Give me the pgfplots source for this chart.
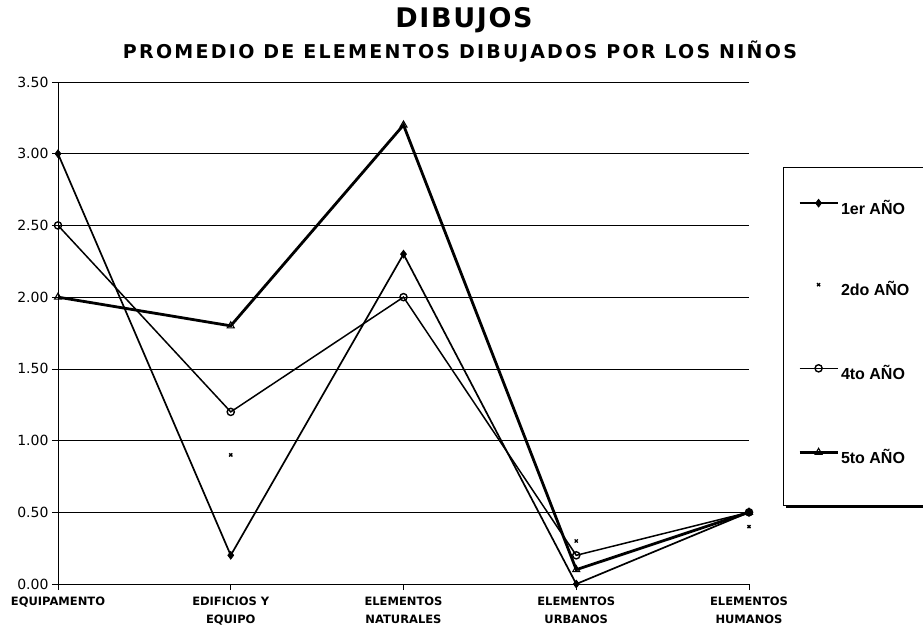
\documentclass[border=0pt]{standalone}
\usepackage{pgfplots}
\pgfplotsset{compat=1.18}
\usepackage{fontspec}
\setmainfont{DejaVu Sans}
\newfontfamily\legfont{Liberation Sans}
\newfontfamily\titlefont[LetterSpace=6]{DejaVu Sans}
\newfontfamily\subfont[LetterSpace=12]{DejaVu Sans}
\begin{document}
\begin{tikzpicture}[x=1pt,y=1pt]
\useasboundingbox (0,0) rectangle (923,627);
% legend frame
\fill[black] (786,119) rectangle (935,457);
\draw[fill=white, line width=0.6pt] (783,460) rectangle (932,122);
\begin{axis}[
  at={(58pt,43pt)}, anchor=south west,
  scale only axis, width=691pt, height=502pt,
  xmin=0, xmax=4, ymin=0, ymax=3.5,
  axis x line*=bottom, axis y line*=left,
  axis line style={-, line width=0.9pt},
  xtick={0,1,2,3,4},
  xticklabels={EQUIPAMENTO,{EDIFICIOS Y\\EQUIPO},{ELEMENTOS\\NATURALES},{ELEMENTOS\\URBANOS},{ELEMENTOS\\HUMANOS}},
  xticklabel style={align=center, yshift=-3pt, font=\fontsize{11.5}{18}\selectfont\bfseries},
  ytick={0,0.5,1,1.5,2,2.5,3,3.5},
  yticklabel style={font=\fontsize{14}{14}\selectfont, /pgf/number format/.cd, fixed, fixed zerofill, precision=2, assume math mode=true},
  tick align=outside, major tick length=6pt,
  tick style={black, line width=0.7pt},
  ymajorgrids, grid style={black, line width=0.7pt},
  legend cell align=left,
  legend style={at={(1.0709,0.767)}, anchor=north west, draw=none, fill=none,
    inner sep=0pt, row sep=69pt, column sep=2pt,
    nodes={inner sep=0pt, text height=12pt, text depth=0pt, font=\legfont\fontsize{16}{16}\selectfont\bfseries}},
  legend image code/.code={\draw[mark repeat=2,mark phase=2,#1] plot coordinates {(0pt,5pt) (19pt,5pt) (38pt,5pt)};},
]
\addplot[black, line width=1.7pt, mark=diamond*, mark size=4pt, mark options={solid, line width=0.6pt}]
  coordinates {(0,3.00) (1,0.20) (2,2.30) (3,0.00) (4,0.50)};
\addlegendentry{1er AÑO}
\addplot[black, only marks, mark=x, mark size=2.2pt, mark options={line width=1.3pt}]
  coordinates {(1,0.90) (3,0.30) (4,0.40)};
\addlegendentry{2do AÑO}
\addplot[black, line width=1.5pt, mark=o, mark size=3.6pt, mark options={solid, fill=white, line width=1.4pt}]
  coordinates {(0,2.50) (1,1.20) (2,2.00) (3,0.20) (4,0.50)};
\addlegendentry{4to AÑO}
\addplot[black, line width=2.8pt, mark=triangle, mark size=4pt, mark options={solid, fill=white, line width=1.1pt}]
  coordinates {(0,2.00) (1,1.80) (2,3.20) (3,0.10) (4,0.50)};
\addlegendentry{5to AÑO}
\end{axis}
\node[font=\titlefont\fontsize{27}{27}\selectfont\bfseries] at (464,607) {DIBUJOS};
\node[font=\subfont\fontsize{19}{19}\selectfont\bfseries] at (460,575) {PROMEDIO DE ELEMENTOS DIBUJADOS POR LOS NIÑOS};
\end{tikzpicture}
\end{document}
